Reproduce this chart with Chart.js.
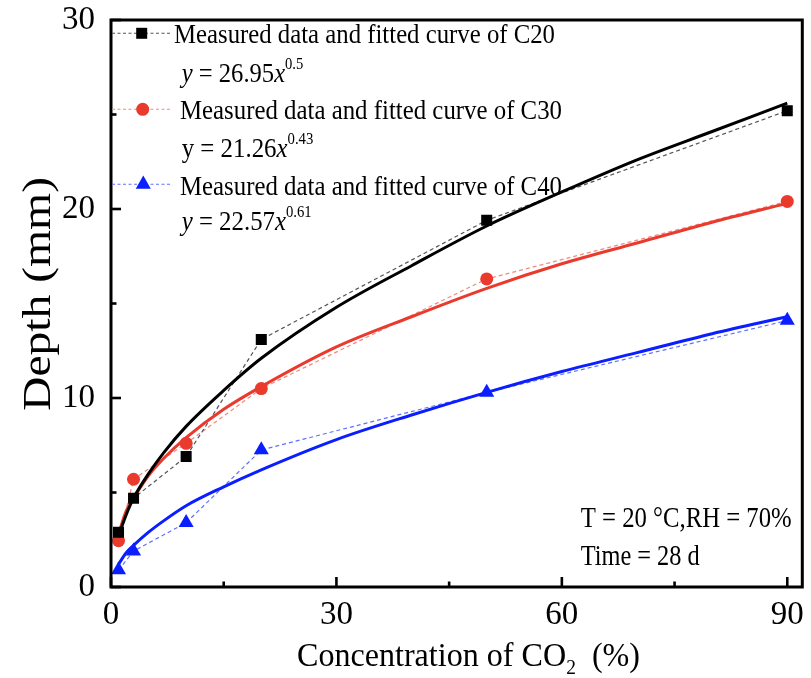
<!DOCTYPE html>
<html><head><meta charset="utf-8">
<script src="https://cdn.jsdelivr.net/npm/chart.js@4"></script>
<style>html,body{margin:0;padding:0;background:#fff}canvas{display:block}</style>
</head><body>
<canvas id="c" width="811" height="678"></canvas>
<script>
// ---- data ----
const concentration = [1, 3, 10, 20, 50, 90];
const depthC20 = [2.9, 4.7, 6.9, 13.1, 19.4, 25.2];
const depthC30 = [2.45, 5.7, 7.6, 10.5, 16.3, 20.4];
const depthC40 = [0.9, 1.9, 3.4, 7.25, 10.3, 14.1];
const fitConcentration = [1, 2, 3, 5, 7, 10, 15, 20, 30, 40, 50, 60, 70, 80, 90];
const fitC20 = [2.7, 3.8, 4.7, 6.0, 7.1, 8.5, 10.4, 12.1, 14.8, 17.0, 19.1, 20.9, 22.6, 24.1, 25.6];
const fitC30 = [2.8, 4.0, 4.7, 5.9, 6.8, 7.9, 9.4, 10.6, 12.7, 14.3, 15.8, 17.1, 18.2, 19.3, 20.3];
const fitC40 = [1.2, 1.8, 2.2, 2.9, 3.5, 4.3, 5.3, 6.2, 7.8, 9.1, 10.3, 11.4, 12.4, 13.4, 14.3];
const xTickValues = [0, 30, 60, 90];
const xMinorTicks = [15, 45, 75];
const yTickValues = [0, 10, 20, 30];
const yMinorTicks = [5, 15, 25];
const seriesNames = ['C20', 'C30', 'C40'];
const legendLabels = seriesNames.map(n => 'Measured data and fitted curve of ' + n);
const fitCoefficients = ['26.95', '21.26', '22.57'];
const fitExponents = ['0.5', '0.43', '0.61'];
const conditionLines = ['T = 20 \u00B0C,RH = 70%', 'Time = 28 d'];
const xTitle = ['Concentration of CO', '2', '  (%)'];
const yTitle = 'Depth (mm)';

const FONT = '"Liberation Serif", "Times New Roman", serif';
const BLACK = '#000000', RED = '#ea3a2d', BLUE = '#0a1eff';
const BLACK_D = '#555555', RED_D = '#f08a80', BLUE_D = '#6070ff';

const pts = (xs, ys) => xs.map((x, i) => ({x, y: ys[i]}));

function rich(ctx, segs, x, y, opt) {
  opt = opt || {};
  let w = 0;
  segs.forEach(s => {
    ctx.font = (s.italic ? 'italic ' : '') + s.size + 'px ' + FONT;
    s.w = ctx.measureText(s.t).width; w += s.w;
  });
  const sx = opt.width ? opt.width / w : 1;
  ctx.save();
  ctx.translate(x, y);
  if (opt.rotate) ctx.rotate(opt.rotate);
  ctx.scale(sx, 1);
  let cx = opt.align === 'center' ? -w / 2 : 0;
  ctx.textBaseline = 'alphabetic'; ctx.textAlign = 'left'; ctx.fillStyle = '#000';
  segs.forEach(s => {
    ctx.font = (s.italic ? 'italic ' : '') + s.size + 'px ' + FONT;
    ctx.fillText(s.t, cx, s.dy || 0); cx += s.w;
  });
  ctx.restore();
}

function line(ctx, x1, y1, x2, y2) { ctx.beginPath(); ctx.moveTo(x1, y1); ctx.lineTo(x2, y2); ctx.stroke(); }

const decor = {
  id: 'decor',
  afterDraw(chart) {
    const {ctx, chartArea: a, scales: {x, y}} = chart;
    ctx.save();
    ctx.strokeStyle = '#000'; ctx.lineWidth = 3;
    ctx.strokeRect(a.left, a.top, a.right - a.left, a.bottom - a.top);
    ctx.lineWidth = 2.6;
    xTickValues.forEach(v => { const p = x.getPixelForValue(v); line(ctx, p, a.bottom, p, a.bottom - 10); });
    xMinorTicks.forEach(v => { const p = x.getPixelForValue(v); line(ctx, p, a.bottom, p, a.bottom - 5.5); });
    yTickValues.forEach(v => { const p = y.getPixelForValue(v); line(ctx, a.left, p, a.left + 10, p); });
    yMinorTicks.forEach(v => { const p = y.getPixelForValue(v); line(ctx, a.left, p, a.left + 5.5, p); });

    // legend
    const rows = [
      {ly: 33.3, dash: BLACK_D, col: BLACK, mk: 'rect', mx: 141.7, tx: 174, tb: 43.3, tw: 381, eb: 81.7, ew: 121.6, yItalic: true},
      {ly: 109.3, dash: RED_D, col: RED, mk: 'circle', mx: 142.7, tx: 180, tb: 119.3, tw: 382, eb: 156.7, ew: 131.6, yItalic: false},
      {ly: 184.3, dash: BLUE_D, col: BLUE, mk: 'triangle', mx: 143.3, tx: 180, tb: 195, tw: 382, eb: 230, ew: 130, yItalic: true}
    ];
    rows.forEach((r, i) => {
      ctx.save();
      ctx.strokeStyle = r.dash; ctx.lineWidth = 1.1; ctx.setLineDash([3, 2.5]);
      line(ctx, a.left + 1, r.ly, 172, r.ly);
      ctx.restore();
      ctx.fillStyle = r.col;
      ctx.beginPath();
      if (r.mk === 'rect') { ctx.rect(r.mx - 5.5, r.ly - 5.5, 11, 11); }
      else if (r.mk === 'circle') { ctx.arc(r.mx, r.ly, 6.5, 0, Math.PI * 2); }
      else { const rr = 8.7; ctx.moveTo(r.mx, r.ly - rr); ctx.lineTo(r.mx + rr * 0.866, r.ly + rr / 2); ctx.lineTo(r.mx - rr * 0.866, r.ly + rr / 2); ctx.closePath(); }
      ctx.fill();
      rich(ctx, [{t: legendLabels[i], size: 27}], r.tx, r.tb, {width: r.tw});
      rich(ctx, [
        {t: 'y', size: 27, italic: r.yItalic},
        {t: ' = ' + fitCoefficients[i], size: 27},
        {t: 'x', size: 27, italic: true},
        {t: fitExponents[i], size: 16, dy: -13}
      ], 181.7, r.eb, {width: r.ew});
    });

    // conditions
    rich(ctx, [{t: conditionLines[0], size: 30}], 580.7, 526.7, {width: 211});
    rich(ctx, [{t: conditionLines[1], size: 30}], 580.7, 565, {width: 119});

    // axis titles
    rich(ctx, [{t: xTitle[0], size: 33}, {t: xTitle[1], size: 20, dy: 8}, {t: xTitle[2], size: 33}], 297, 666, {width: 343});
    rich(ctx, [{t: yTitle, size: 40}], 50, 294, {width: 234, rotate: -Math.PI / 2, align: 'center'});
    ctx.restore();
  }
};

const tickFont = {family: FONT, size: 33};

new Chart(document.getElementById('c'), {
  type: 'line',
  data: {
    datasets: [
      {data: pts(concentration, depthC20), borderColor: BLACK_D, borderDash: [4, 3], borderWidth: 1.2, pointRadius: 0, tension: 0, order: 5},
      {data: pts(concentration, depthC30), borderColor: RED_D, borderDash: [4, 3], borderWidth: 1.2, pointRadius: 0, tension: 0, order: 5},
      {data: pts(concentration, depthC40), borderColor: BLUE_D, borderDash: [4, 3], borderWidth: 1.2, pointRadius: 0, tension: 0, order: 5},
      {data: pts(fitConcentration, fitC20), borderColor: BLACK, borderWidth: 3, pointRadius: 0, cubicInterpolationMode: 'monotone', order: 3},
      {data: pts(fitConcentration, fitC30), borderColor: RED, borderWidth: 3, pointRadius: 0, cubicInterpolationMode: 'monotone', order: 3},
      {data: pts(fitConcentration, fitC40), borderColor: BLUE, borderWidth: 3, pointRadius: 0, cubicInterpolationMode: 'monotone', order: 3},
      {data: pts(concentration, depthC20), showLine: false, pointStyle: 'rect', pointRadius: 7.8, pointBackgroundColor: BLACK, pointBorderColor: BLACK, pointBorderWidth: 0, order: 1},
      {data: pts(concentration, depthC30), showLine: false, pointStyle: 'circle', pointRadius: 6.5, pointBackgroundColor: RED, pointBorderColor: RED, pointBorderWidth: 0, order: 1},
      {data: pts(concentration, depthC40), showLine: false, pointStyle: 'triangle', pointRadius: 8.7, pointBackgroundColor: BLUE, pointBorderColor: BLUE, pointBorderWidth: 0, order: 1}
    ]
  },
  options: {
    responsive: false, animation: false, devicePixelRatio: 1,
    layout: {padding: 0},
    plugins: {legend: {display: false}, tooltip: {enabled: false}},
    elements: {line: {fill: false}},
    scales: {
      x: {
        type: 'linear', min: 0, max: 92,
        afterBuildTicks: s => { s.ticks = xTickValues.map(v => ({value: v})); },
        afterFit: s => { s.height = 91; s.paddingLeft = 0; s.paddingRight = 5; },
        grid: {display: false, drawTicks: false}, border: {display: false},
        ticks: {font: tickFont, color: '#000', padding: 9, maxRotation: 0, autoSkip: false}
      },
      y: {
        type: 'linear', min: 0, max: 30,
        afterBuildTicks: s => { s.ticks = yTickValues.map(v => ({value: v})); },
        afterFit: s => { s.width = 111; s.paddingTop = 20; s.paddingBottom = 0; },
        grid: {display: false, drawTicks: false}, border: {display: false},
        ticks: {font: tickFont, color: '#000', padding: 16, autoSkip: false}
      }
    }
  },
  plugins: [decor]
});
</script>
</body></html>
